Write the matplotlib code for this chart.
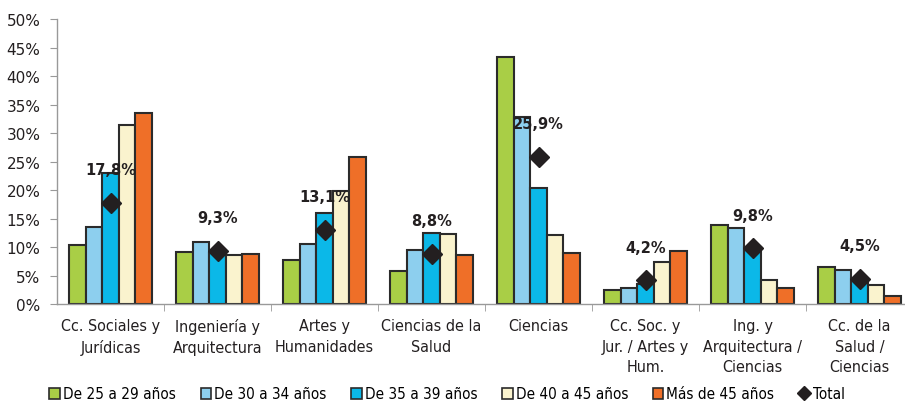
import matplotlib
matplotlib.use("Agg")
import matplotlib.pyplot as plt
import numpy as np
from matplotlib.patches import Patch
from matplotlib.lines import Line2D
from matplotlib.ticker import FixedLocator, PercentFormatter
from matplotlib.font_manager import FontProperties

categories = ["Cc. Sociales y\nJurídicas", "Ingeniería y\nArquitectura", "Artes y\nHumanidades",
              "Ciencias de la\nSalud", "Ciencias", "Cc. Soc. y\nJur. / Artes y\nHum.",
              "Ing. y\nArquitectura /\nCiencias", "Cc. de la\nSalud /\nCiencias"]
series_names = ["De 25 a 29 años", "De 30 a 34 años", "De 35 a 39 años",
                "De 40 a 45 años", "Más de 45 años"]
age_25_29 = [10.4, 9.1, 7.8, 5.8, 43.4, 2.5, 13.9, 6.6]
age_30_34 = [13.6, 11.0, 10.6, 9.6, 32.8, 2.9, 13.3, 6.0]
age_35_39 = [23.0, 9.0, 16.0, 12.5, 20.4, 3.6, 10.0, 4.4]
age_40_45 = [31.5, 8.6, 19.9, 12.3, 12.2, 7.5, 4.3, 3.4]
age_45_plus = [33.5, 8.8, 25.8, 8.7, 9.0, 9.3, 2.9, 1.4]
total = [17.8, 9.3, 13.1, 8.8, 25.9, 4.2, 9.8, 4.5]

colors = ["#a9ce46", "#8dcfee", "#0bb8e8", "#faf3ce", "#ef6f28"]
edge = "#2b2b2b"
label_font = FontProperties(family="DejaVu Sans", stretch="condensed", size=11.5)
legend_font = FontProperties(family="DejaVu Sans", stretch="condensed", size=11)

W, H = 905, 402
fig = plt.figure(figsize=(W / 100, H / 100), dpi=100)
ax = fig.add_axes([57 / W, (H - 305.3) / H, 856 / W, 285.3 / H])

x = np.arange(len(categories))
width = 0.155
all_series = [age_25_29, age_30_34, age_35_39, age_40_45, age_45_plus]
for i, (vals, c) in enumerate(zip(all_series, colors)):
    ax.bar(x + (i - 2) * width, vals, width=width, color=c, edgecolor=edge, linewidth=1.5, zorder=2)

ax.plot(x, total, linestyle="none", marker="D", markersize=10, color="#231f20", zorder=4)
for xi, t in zip(x, total):
    ax.annotate(f"{t:.1f}%".replace(".", ","), (xi, t), xytext=(0, 24), textcoords="offset points",
                ha="center", va="center", fontsize=10.5, fontweight="bold", color="#231f20", zorder=5)

ax.set_xlim(-0.5, len(categories) - 0.5)
ax.set_ylim(0, 50)
ax.yaxis.set_major_locator(FixedLocator(np.arange(0, 51, 5)))
ax.yaxis.set_major_formatter(PercentFormatter(decimals=0))
ax.set_xticks(x)
ax.set_xticklabels(categories, fontproperties=label_font, color="#231f20", linespacing=1.45)
ax.set_xticks(np.arange(0.5, len(categories) - 0.5, 1), minor=True)
ax.tick_params(axis="x", which="major", length=0, pad=10)
ax.tick_params(axis="x", which="minor", length=5, color="#999999", direction="out")
ax.tick_params(axis="y", length=5, color="#999999", pad=7, labelsize=11, labelcolor="#231f20")
for s in ["top", "right"]:
    ax.spines[s].set_visible(False)
for s in ["left", "bottom"]:
    ax.spines[s].set_color("#999999")
    ax.spines[s].set_linewidth(1.0)

handles = [Patch(facecolor=c, edgecolor=edge, linewidth=1.2, label=n) for c, n in zip(colors, series_names)]
handles.append(Line2D([], [], linestyle="none", marker="D", markersize=7, color="#231f20", label="Total"))
fig.legend(handles=handles, loc="center", bbox_to_anchor=(447 / W, 1 - 395 / H), ncol=6,
           frameon=False, prop=legend_font, handlelength=0.7, handleheight=0.7,
           handletextpad=0.2, columnspacing=1.6, borderaxespad=0)

fig.savefig("out.png", dpi=100)
